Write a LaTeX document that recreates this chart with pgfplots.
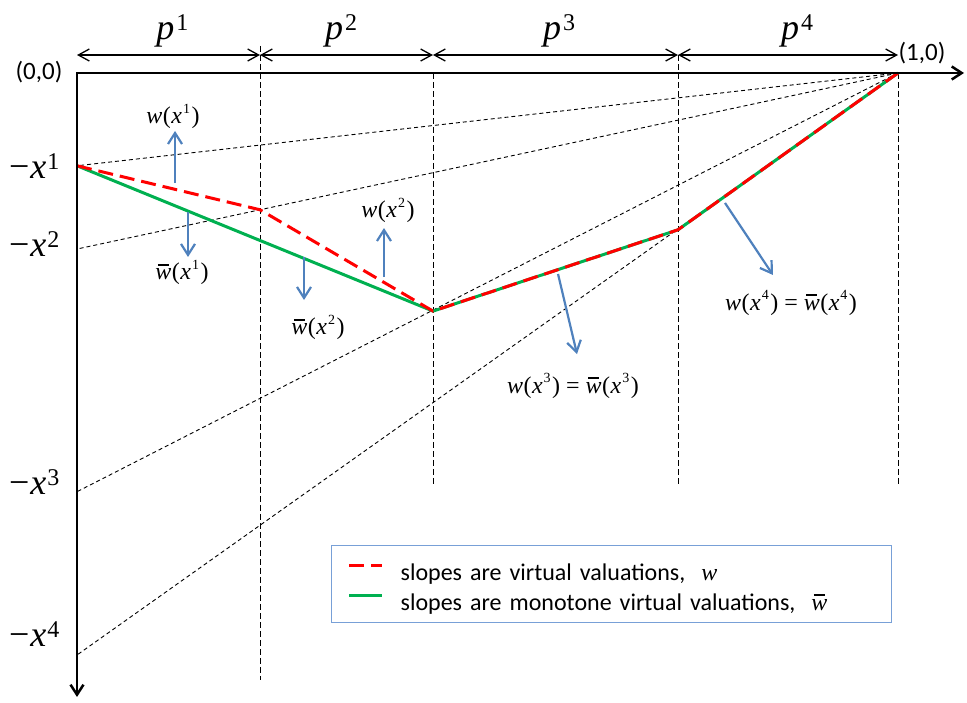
\documentclass[border=0pt]{standalone}
\usepackage{pgfplots}
\pgfplotsset{compat=1.18}
\usetikzlibrary{arrows.meta}
\usepackage{fontspec}
\setmainfont{Carlito}
\newfontfamily\tnr{Liberation Serif}
\definecolor{myred}{RGB}{255,0,0}
\definecolor{mygreen}{RGB}{0,176,80}
\definecolor{myblue}{RGB}{79,129,189}
\definecolor{legborder}{RGB}{120,160,215}
\newcommand{\mlab}{\fontsize{24}{28}\selectfont\tnr}
\newcommand{\blab}{\fontsize{36}{40}\selectfont\tnr}
\newcommand{\sm}[1]{\raisebox{0.45em}{\fontsize{14}{14}\selectfont #1}}
\newcommand{\bsup}[1]{\raisebox{0.25em}{\fontsize{24}{24}\selectfont #1}}
\newcommand{\wbar}{\makebox[0pt][l]{\hspace{0.1em}\rule[0.6em]{0.45em}{0.075em}}\textit{w}}
\newcommand{\wx}[1]{\textit{w}\kern0.5pt(\kern0.5pt\textit{x}\kern1pt\sm{#1}\kern1.5pt)}
\newcommand{\wbx}[1]{\wbar\kern0.5pt(\kern0.5pt\textit{x}\kern1pt\sm{#1}\kern1.5pt)}
\newcommand{\mx}[1]{−\kern1pt\textit{x}\kern1pt\bsup{#1}}
\newcommand{\pp}[1]{\textit{p}\kern2pt\bsup{#1}}
\tikzset{
  vdash/.style={black, line width=0.9pt, dash pattern=on 6pt off 3pt},
  rdash/.style={black, line width=0.9pt, dash pattern=on 4pt off 3pt},
  blarr/.style={myblue, line width=2.2pt, -{Straight Barb[length=11pt,width=14pt]}},
  dbl/.style={black, line width=1.3pt, {Straight Barb[length=11pt,width=12pt]}-{Straight Barb[length=11pt,width=12pt]}},
}
\begin{document}
\begin{tikzpicture}
\begin{axis}[
  hide axis, scale only axis, clip=false,
  width=967pt, height=702pt,
  xmin=-0.09379, xmax=1.08404, ymin=-0.76614, ymax=0.08892,
  reverse legend,
  legend image code/.code={\draw[#1] (0pt,4pt) -- (33pt,4pt);},
  legend cell align=left,
  legend style={at={(0.3423,0.2237)}, anchor=north west, draw=legborder, line width=1.3pt, fill=white,
    inner xsep=16pt, inner ysep=8pt, column sep=17pt, row sep=-1pt,
    font=\fontsize{24}{28}\selectfont,
    nodes={inner xsep=0pt, inner ysep=0pt, text width=475pt, text height=27pt, text depth=4pt}},
]
% vertical guide lines
\addplot[vdash, forget plot] coordinates {(0.2229,0.0329) (0.2229,-0.7393)};
\addplot[vdash, forget plot] coordinates {(0.4336,0) (0.4336,-0.5018)};
\addplot[vdash, forget plot] coordinates {(0.732,0.0219) (0.732,-0.5018)};
\addplot[vdash, forget plot] coordinates {(1,0) (1,-0.5018)};
% rays from (1,0)
\addplot[rdash, forget plot] coordinates {(1,0) (0,-0.113)};
\addplot[rdash, forget plot] coordinates {(1,0) (0,-0.2144)};
\addplot[rdash, forget plot] coordinates {(1,0) (0,-0.510)};
\addplot[rdash, forget plot] coordinates {(1,0) (0,-0.7089)};
% curves
\addplot[mygreen, line width=3pt] coordinates {(0,-0.113) (0.4336,-0.290) (0.732,-0.191) (1,0)};
\addlegendentry{slopes are monotone virtual valuations,~~{\tnr\wbar}}
\addplot[myred, line width=3pt, dash pattern=on 15pt off 7pt] coordinates {(0,-0.113) (0.2229,-0.1666) (0.4336,-0.290) (0.732,-0.191) (1,0)};
\addlegendentry{slopes are virtual valuations,~~{\tnr\textit{w}}}
% axes
\draw[black, line width=2.5pt, {Straight Barb[length=10pt,width=13pt]}-{Straight Barb[length=10pt,width=13pt]}]
  (axis cs:0,-0.7600) -- (axis cs:0,0) -- (axis cs:1.0804,0);
% top double arrows
\draw[dbl] (axis cs:0,0.0219) -- (axis cs:0.2229,0.0219);
\draw[dbl] (axis cs:0.2229,0.0219) -- (axis cs:0.4336,0.0219);
\draw[dbl] (axis cs:0.4336,0.0219) -- (axis cs:0.732,0.0219);
\draw[dbl] (axis cs:0.732,0.0219) -- (axis cs:1,0.0219);
% p labels
\node[anchor=base] at (axis cs:0.1163,0.0402) {\blab\pp{1}};
\node[anchor=base] at (axis cs:0.3216,0.0402) {\blab\pp{2}};
\node[anchor=base] at (axis cs:0.5871,0.0402) {\blab\pp{3}};
\node[anchor=base] at (axis cs:0.8770,0.0402) {\blab\pp{4}};
% corner labels
\node at (axis cs:-0.0463,0.0012) {\fontsize{25}{30}\selectfont (0,0)};
\node at (axis cs:1.0292,0.0244) {\fontsize{25}{30}\selectfont (1,0)};
% -x labels
\node[anchor=base] at (axis cs:-0.052,-0.1279) {\blab\mx{1}};
\node[anchor=base] at (axis cs:-0.052,-0.2241) {\blab\mx{2}};
\node[anchor=base] at (axis cs:-0.052,-0.5140) {\blab\mx{3}};
\node[anchor=base] at (axis cs:-0.052,-0.6991) {\blab\mx{4}};
% blue arrows
\draw[blarr] (axis cs:0.1194,-0.1340) -- (axis cs:0.1194,-0.0706);
\draw[blarr] (axis cs:0.1352,-0.1693) -- (axis cs:0.1352,-0.2241);
\draw[blarr] (axis cs:0.3739,-0.2485) -- (axis cs:0.3739,-0.1888);
\draw[blarr] (axis cs:0.2765,-0.2241) -- (axis cs:0.2765,-0.2765);
\draw[blarr] (axis cs:0.5859,-0.2448) -- (axis cs:0.6090,-0.3423);
\draw[blarr] (axis cs:0.7893,-0.1583) -- (axis cs:0.8477,-0.2460);
% annotation labels
\node[anchor=base] at (axis cs:0.1169,-0.0621) {\mlab\wx{1}};
\node[anchor=base] at (axis cs:0.1279,-0.2521) {\mlab\wbx{1}};
\node[anchor=base] at (axis cs:0.3788,-0.1766) {\mlab\wx{2}};
\node[anchor=base] at (axis cs:0.2935,-0.3191) {\mlab\wbx{2}};
\node[anchor=base] at (axis cs:0.6041,-0.3898) {\mlab\wx{3} = \wbx{3}};
\node[anchor=base] at (axis cs:0.8697,-0.2887) {\mlab\wx{4} = \wbx{4}};
\end{axis}
\pgfresetboundingbox
\path[use as bounding box] (current axis.south west) rectangle (current axis.north east);
\end{tikzpicture}
\end{document}
